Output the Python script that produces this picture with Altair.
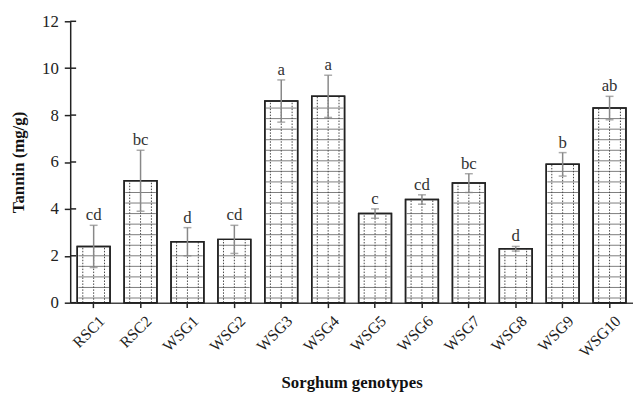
import altair as alt
import pandas as pd
import numpy as np

genotypes = ["RSC1", "RSC2", "WSG1", "WSG2", "WSG3", "WSG4", "WSG5", "WSG6", "WSG7", "WSG8", "WSG9", "WSG10"]
tannin = [2.4, 5.2, 2.6, 2.7, 8.6, 8.8, 3.8, 4.4, 5.1, 2.3, 5.9, 8.3]
err_low = [1.5, 3.9, 2.0, 2.1, 7.7, 7.9, 3.6, 4.2, 4.7, 2.2, 5.4, 7.8]
err_high = [3.3, 6.5, 3.2, 3.3, 9.5, 9.7, 4.0, 4.6, 5.5, 2.4, 6.4, 8.8]
letters = ["cd", "bc", "d", "cd", "a", "a", "c", "cd", "bc", "d", "b", "ab"]
y_ticks = [0, 2, 4, 6, 8, 10, 12]

df = pd.DataFrame({"g": genotypes, "v": tannin, "lo": err_low, "hi": err_high, "lab": letters})
df["zero"] = 0.0
ticks_df = pd.DataFrame({"t": y_ticks})

# hatch (dotted grid) rows derived from the bar heights
rows = []
for g, v in zip(genotypes, tannin):
    lvl = 0.2
    while lvl < v - 0.15:
        rows.append({"g": g, "lvl": lvl})
        lvl += 0.45
grid = pd.DataFrame(rows)

FONT = "Liberation Serif"
xenc = alt.X("g:N", sort=genotypes, title="Sorghum genotypes",
             scale=alt.Scale(paddingInner=0.3, paddingOuter=0.15),
             axis=alt.Axis(labelAngle=-45, labelAlign="right", labelBaseline="top",
                           labelPadding=5, labelOffset=3, tickSize=5, titlePadding=15,
                           labelFontSize=16, domainColor="#444"))
yscale = alt.Scale(domain=[0, 12], nice=False)
yenc = alt.Y("v:Q", scale=yscale, title="Tannin (mg/g)",
             axis=alt.Axis(values=y_ticks, grid=False, tickSize=6,
                           labelPadding=6, titlePadding=14))
xs = alt.X("g:N", sort=genotypes)

base = alt.Chart(df)
bars = base.mark_bar(fill="white", stroke="#222", strokeWidth=1.5).encode(x=xenc, y=yenc)

hlines = alt.Chart(grid).mark_tick(size=31, thickness=1, color="#444", strokeDash=[1.5, 1.5]).encode(
    x=xs, y=alt.Y("lvl:Q", scale=yscale))

vlayers = []
for off in [-11, 0, 11]:
    vlayers.append(base.mark_rule(xOffset=off, color="#444", strokeWidth=1, strokeDash=[1.5, 1.5]).encode(
        x=xs, y=alt.Y("zero:Q", scale=yscale), y2="v:Q"))

outline = base.mark_bar(fillOpacity=0, stroke="#222", strokeWidth=1.5).encode(
    x=xs, y=alt.Y("v:Q", scale=yscale))

# inner half of the crossing y-axis ticks
inner_ticks = alt.Chart(ticks_df).mark_rule(color="#222", strokeWidth=1.5).encode(
    y=alt.Y("t:Q", scale=yscale), x=alt.value(0), x2=alt.value(6))

err = base.mark_rule(color="#888", strokeWidth=1.5).encode(
    x=xs, y=alt.Y("lo:Q", scale=yscale), y2="hi:Q")
cap_lo = base.mark_tick(size=8, thickness=1.5, color="#888").encode(
    x=xs, y=alt.Y("lo:Q", scale=yscale))
cap_hi = base.mark_tick(size=8, thickness=1.5, color="#888").encode(
    x=xs, y=alt.Y("hi:Q", scale=yscale))
txt = base.mark_text(font=FONT, fontSize=17, baseline="bottom", dy=-1, color="#333").encode(
    x=xs, y=alt.Y("hi:Q", scale=yscale), text="lab:N")

chart = alt.layer(bars, hlines, *vlayers, outline, inner_ticks, err, cap_lo, cap_hi, txt).properties(
    width=570, height=285,
    padding={"left": 2, "top": 2, "right": 0, "bottom": 0},
).configure_view(stroke=None).configure_axis(
    labelFont=FONT, titleFont=FONT, labelFontSize=17, titleFontSize=17,
    titleFontWeight="bold", labelColor="#222", titleColor="#111",
    domainColor="#222", tickColor="#222", domainWidth=1.5, tickWidth=1.5,
)

chart.save("out.html", embed_options={"renderer": "svg", "actions": False})
